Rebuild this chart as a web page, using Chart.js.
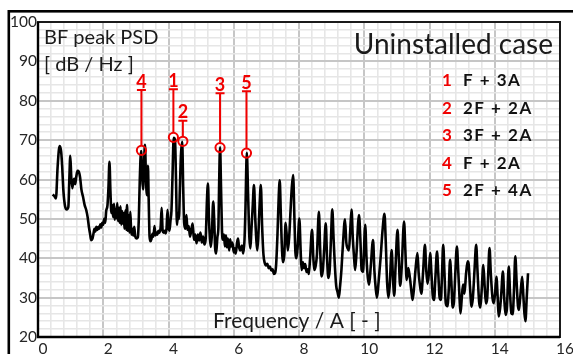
<!DOCTYPE html>
<html><head><meta charset="utf-8">
<script src="https://cdn.jsdelivr.net/npm/chart.js@4.4.0/dist/chart.umd.min.js"></script>
<style>html,body{margin:0;padding:0;background:#fff;}canvas{display:block;}</style>
</head><body>
<canvas id="c" width="573" height="354"></canvas>
<script>
// ---------- data ----------
const spectrumFreq = [
 0.45,0.50,0.55,0.60,0.64,0.67,0.71,0.74,0.78,0.83,0.88,0.93,0.96,0.99,1.02,1.05,1.08,1.11,1.14,1.17,
 1.21,1.25,1.29,1.33,1.38,1.43,1.48,1.52,1.56,1.60,1.63,1.67,1.70,1.73,1.76,1.79,1.82,1.85,1.88,1.91,
 1.94,1.97,2.00,2.03,2.06,2.09,2.13,2.16,2.19,2.22,2.25,
 2.28,2.30,2.33,2.35,2.38,2.40,2.43,2.45,2.48,2.50,
 2.53,2.55,2.58,2.60,2.63,2.65,2.68,2.70,2.73,2.75,
 2.78,2.80,2.83,2.86,2.89,2.92,2.95,2.98,3.02,3.06,
 3.09,3.12,3.16,3.19,3.22,3.25,3.28,3.31,3.34,3.37,
 3.39,3.42,3.45,3.48,3.51,3.54,3.57,3.60,3.63,3.66,
 3.69,3.72,3.76,3.79,3.82,3.85,3.88,3.91,3.94,3.97,
 4.00,4.03,4.06,4.09,4.12,4.16,4.20,4.23,4.26,4.29,
 4.32,4.35,4.38,4.42,4.45,4.48,
 4.52,4.55,4.58,4.62,4.66,4.70,4.74,4.78,4.82,4.86,
 4.90,4.94,4.98,5.02,5.06,5.10,5.14,5.18,5.21,5.24,
 5.27,5.30,5.33,5.37,5.40,5.43,5.46,5.50,5.53,5.55,
 5.58,5.61,5.64,5.67,5.70,5.73,5.76,5.79,5.82,5.86,
 5.89,5.92,5.96,6.00,6.03,6.06,6.10,6.13,6.16,6.20,
 6.25,6.29,6.33,6.36,6.40,6.44,6.48,6.51,6.54,6.58,
 6.62,6.66,6.69,6.72,6.75,6.79,6.83,6.87,6.91,6.95,
 6.99,7.03,7.07,7.11,7.15,7.19,7.23,7.27,7.30,7.34,
 7.38,7.41,7.44,7.47,7.51,7.55,7.59,7.63,7.66,7.70,
 7.74,7.78,7.82,7.86,7.89,
 7.92,7.96,8.01,8.05,8.08,8.12,8.15,8.19,8.23,8.27,
 8.30,8.34,8.40,8.44,8.47,8.51,8.55,8.61,8.65,8.69,
 8.73,8.77,8.82,8.86,8.90,8.94,8.98,9.02,9.06,9.10,
 9.14,9.18,9.22,9.26,9.30,9.35,9.41,9.45,9.49,9.53,
 9.57,9.61,9.65,9.69,9.72,9.76,9.84,9.88,9.92,9.96,
 10.03,10.07,10.11,10.15,10.20,10.27,10.31,10.35,10.39,10.44,
 10.50,10.56,10.62,10.66,10.70,10.74,10.78,10.84,10.88,10.92,
 10.96,11.02,11.06,11.10,11.15,11.22,11.26,11.30,11.35,11.40,
 11.44,11.48,11.52,11.57,11.63,11.67,11.71,11.75,11.80,11.86,
 11.90,11.94,11.98,12.02,12.06,12.10,12.14,12.18,12.23,12.27,
 12.31,12.35,12.38,12.42,12.46,12.50,12.55,12.59,12.63,12.67,
 12.71,12.75,12.79,12.84,12.88,12.92,12.95,12.99,13.03,13.07,
 13.12,13.17,13.20,13.24,13.29,13.33,13.38,13.43,13.47,13.52,
 13.56,13.60,13.65,13.69,13.73,13.77,13.80,13.84,13.88,13.93,
 13.97,14.01,14.05,14.09,14.12,14.16,14.20,14.25,14.29,14.33,
 14.37,14.43,14.47,14.51,14.55,14.59,14.63,14.67,14.71,14.74,
 14.78,14.84,14.88,14.91,14.94,14.98,15.02
];
const spectrumPsd = [
 56.2,55.8,55.2,63.0,67.5,68.5,67.0,63.5,57.0,53.2,52.4,53.0,60.0,66.0,60.5,57.8,59.5,60.2,58.8,60.5,
 62.2,62.0,60.5,57.5,55.6,53.5,52.2,50.5,48.0,46.0,44.6,45.0,46.2,47.5,46.8,48.0,47.2,48.0,47.5,48.6,
 47.8,49.0,48.5,50.0,49.0,52.0,53.5,58.0,64.5,57.0,51.5,
 53.5,50.5,53.8,49.8,52.5,50.2,54.0,49.5,52.8,49.0,
 53.2,48.5,52.0,48.8,51.5,47.5,52.2,47.2,53.5,47.0,
 51.0,46.5,51.8,46.0,47.5,45.8,48.0,45.5,45.0,45.3,
 50.0,60.0,67.2,61.0,57.5,64.0,68.8,60.0,56.0,63.5,
 56.0,45.5,44.3,45.0,46.2,45.5,48.2,45.8,46.5,46.0,
 47.0,46.5,48.0,52.8,47.0,46.5,47.0,46.3,47.5,52.3,
 48.0,47.0,49.5,52.0,60.0,70.6,70.0,60.0,48.5,51.5,
 50.0,58.0,66.0,69.6,58.0,49.0,
 47.5,51.0,47.2,48.2,45.5,47.2,48.8,44.7,46.0,43.8,
 46.0,44.5,46.5,44.0,45.5,43.5,45.0,55.0,59.0,50.0,
 45.0,42.9,46.0,54.4,50.0,42.5,41.2,45.5,48.0,58.0,
 68.2,58.0,47.0,44.7,46.0,43.0,45.8,42.8,45.0,42.0,
 44.8,43.0,44.0,41.5,42.5,41.2,43.8,45.0,43.0,42.0,
 43.2,41.2,44.7,53.0,66.8,56.0,45.0,42.5,47.0,53.0,
 58.6,50.0,45.0,42.0,45.0,53.0,58.6,48.0,41.0,38.8,
 38.2,38.6,37.5,37.9,36.9,37.2,36.0,36.3,38.5,46.0,
 56.0,59.8,52.0,44.0,39.0,41.0,49.0,45.0,42.0,45.5,
 52.0,58.0,61.1,50.0,41.5,
 40.0,43.0,50.1,42.0,37.0,39.0,37.5,38.5,36.5,37.2,
 36.0,40.0,47.2,40.0,37.0,38.0,41.0,51.8,42.0,35.4,
 37.0,42.0,48.9,40.0,35.0,37.0,45.0,52.4,45.0,38.0,
 33.0,31.5,30.0,33.0,37.0,44.0,49.9,44.0,42.5,42.0,
 47.0,52.4,45.0,40.0,37.0,41.0,51.0,45.0,37.0,36.5,
 48.5,40.0,35.0,33.3,38.0,44.6,37.0,32.5,30.0,34.0,
 40.0,47.0,51.3,44.0,34.0,30.0,33.0,42.1,35.0,30.5,
 38.0,47.2,40.0,33.0,38.0,49.3,42.0,34.5,37.5,35.0,
 32.0,29.4,32.0,37.0,41.3,36.0,33.0,31.0,36.0,43.4,
 37.0,33.5,36.0,41.3,36.0,30.5,29.4,35.0,41.7,36.0,
 30.0,29.4,35.0,43.4,36.0,28.5,27.8,32.0,39.6,34.0,
 27.5,29.0,36.0,43.0,37.0,30.0,26.0,30.0,33.3,31.0,
 36.0,39.2,38.5,33.0,27.7,30.0,37.0,43.4,37.0,29.0,
 27.5,32.0,38.3,33.0,28.5,30.0,36.0,42.6,36.0,30.0,
 28.6,31.0,35.3,30.0,25.2,27.0,31.0,36.6,30.0,25.6,
 27.0,37.9,31.0,26.0,25.8,32.0,40.5,34.0,28.0,26.9,
 30.0,35.3,30.0,26.0,24.0,30.0,36.2
];
const peakNames = ['1','2','3','4','5'];
const peakFreq  = [4.15, 4.44, 5.58, 3.17, 6.39];
const peakPsd   = [70.7, 69.7, 68.1, 67.4, 66.7];
const capPsd    = [82.9, 74.9, 81.9, 82.7, 82.4];
const legendNums  = ['1','2','3','4','5'];
const legendTexts = ['F + 3A','2F + 2A','3F + 2A','F + 2A','2F + 4A'];
const xRange = [0, 16], xMinorStep = 0.4, xMajorStep = 2;
const yRange = [20, 100], yMinorStep = 2, yMajorStep = 10;
const yTitleLines = ['BF peak PSD', '[ dB / Hz ]'];
const xTitle = 'Frequency / A [ - ]';
const caseTitle = 'Uninstalled case';

if (spectrumFreq.length !== spectrumPsd.length) throw new Error('len mismatch ' + spectrumFreq.length + ' ' + spectrumPsd.length);

// ---------- drawing ----------
const RED = '#f00000';
const FONT = 'Lato, "Open Sans", sans-serif';
const isMajor = (v, step) => Math.abs(v / step - Math.round(v / step)) < 1e-6;

const decor = {
  id: 'decor',
  beforeDraw(chart) {
    const c = chart.ctx;
    c.save();
    c.fillStyle = '#fff'; c.fillRect(0, 0, chart.width, chart.height);
    c.fillStyle = '#000';
    c.fillRect(8, 10, chart.width - 8, 2.6);
    c.fillRect(7.5, 10, 2.6, chart.height - 10);
    c.restore();
  },
  beforeDatasetsDraw(chart) {
    const c = chart.ctx, a = chart.chartArea;
    c.save();
    c.strokeStyle = '#1a1a1a'; c.lineWidth = 2;
    c.strokeRect(a.left, a.top, a.right - a.left, a.bottom - a.top);
    c.lineWidth = 2.4; c.strokeStyle = '#000';
    c.beginPath(); c.moveTo(a.left, a.top); c.lineTo(a.left, a.bottom); c.lineTo(a.right, a.bottom); c.stroke();
    c.restore();
  },
  afterDatasetsDraw(chart) {
    const c = chart.ctx, xs = chart.scales.x, ys = chart.scales.y;
    c.save();
    // peak marker stems, caps and labels
    c.strokeStyle = RED; c.fillStyle = RED; c.lineWidth = 2;
    c.font = 'bold 18px ' + FONT; c.textAlign = 'center'; c.textBaseline = 'alphabetic';
    for (let i = 0; i < peakNames.length; i++) {
      const px = xs.getPixelForValue(peakFreq[i]);
      const p0 = ys.getPixelForValue(peakPsd[i]) - 5;
      const p1 = ys.getPixelForValue(capPsd[i]);
      c.beginPath(); c.moveTo(px, p0); c.lineTo(px, p1);
      c.moveTo(px - 4.5, p1); c.lineTo(px + 4.5, p1); c.stroke();
      c.fillText(peakNames[i], px, p1 - 2.5);
    }
    // texts
    c.fillStyle = '#1a1a1a'; c.textAlign = 'left';
    c.font = '20px ' + FONT;
    c.fillText(yTitleLines[0], 44, 44);
    c.fillText(yTitleLines[1], 44, 71);
    c.font = '21px ' + FONT;
    c.fillText(xTitle, 213, 328);
    c.font = '28px ' + FONT; c.textAlign = 'right';
    c.fillText(caseTitle, 553, 54);
    c.textAlign = 'left'; c.font = 'bold 17px ' + FONT;
    for (let i = 0; i < legendNums.length; i++) {
      const by = 86 + i * 27.6;
      c.letterSpacing = '0px';
      c.fillStyle = RED; c.fillText(legendNums[i], 442, by);
      c.letterSpacing = '1.5px';
      c.fillStyle = '#111'; c.fillText(legendTexts[i], 463, by);
    }
    c.letterSpacing = '0px';
    c.restore();
  }
};

new Chart(document.getElementById('c'), {
  type: 'line',
  data: {
    datasets: [
      {
        type: 'scatter',
        data: peakFreq.map((f, i) => ({ x: f, y: peakPsd[i] })),
        pointRadius: 4.6, pointBorderWidth: 2, pointBorderColor: RED,
        pointBackgroundColor: 'rgba(0,0,0,0)', showLine: false
      },
      {
        data: spectrumFreq.map((f, i) => ({ x: f, y: spectrumPsd[i] })),
        borderColor: '#000', borderWidth: 2.6, pointRadius: 0,
        cubicInterpolationMode: 'monotone', fill: false
      }
    ]
  },
  options: {
    responsive: false, animation: false, events: [],
    layout: { padding: { top: 22, right: 13, left: 0, bottom: 0 } },
    plugins: { legend: { display: false }, tooltip: { enabled: false } },
    scales: {
      x: {
        type: 'linear', min: xRange[0], max: xRange[1],
        afterFit: s => { s.height = 17; },
        border: { display: false },
        grid: {
          drawTicks: false,
          color: ctx => isMajor(ctx.tick.value, xMajorStep) ? '#c6c6c6' : '#e6e6e6',
          lineWidth: ctx => isMajor(ctx.tick.value, xMajorStep) ? 2 : 1.6
        },
        ticks: {
          stepSize: xMinorStep, autoSkip: false, maxRotation: 0, padding: 3, labelOffset: 5,
          color: '#262626', font: { family: FONT, size: 15.5 },
          callback: v => isMajor(v, xMajorStep) ? String(Math.round(v)) : ''
        }
      },
      y: {
        type: 'linear', min: yRange[0], max: yRange[1],
        afterFit: s => { s.width = 38; },
        border: { display: false },
        grid: {
          drawTicks: false,
          color: ctx => isMajor(ctx.tick.value, yMajorStep) ? '#c6c6c6' : '#e6e6e6',
          lineWidth: ctx => isMajor(ctx.tick.value, yMajorStep) ? 2 : 1.6
        },
        ticks: {
          stepSize: yMinorStep, autoSkip: false, padding: 1,
          color: '#262626', font: { family: FONT, size: 15.5 },
          callback: v => isMajor(v, yMajorStep) ? String(Math.round(v)) : ''
        }
      }
    }
  },
  plugins: [decor]
});
</script>
</body></html>
